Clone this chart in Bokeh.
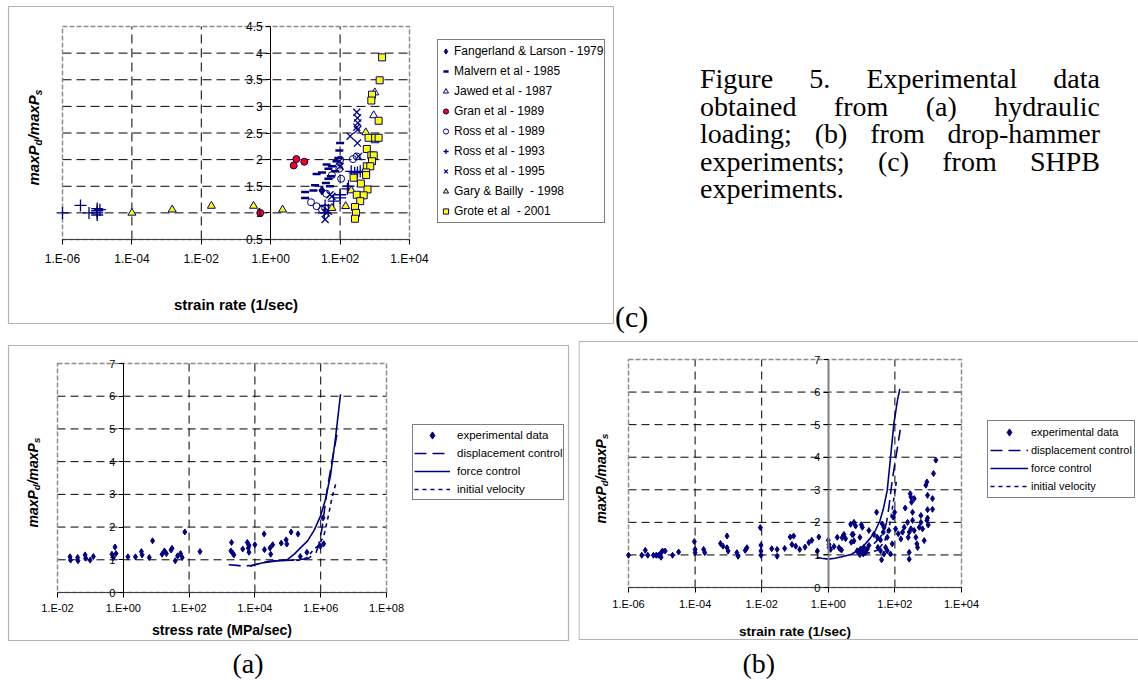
import math
from bokeh.plotting import figure
from bokeh.models import (LinearAxis, LogAxis, FixedTicker, CustomJSTickFormatter, Range1d,
                          Label, BoxAnnotation, Div)
from bokeh.layouts import row, column
from bokeh.embed import file_html
from bokeh.resources import INLINE

# ---------------- panel (c): SHPB experiments ----------------
c_x_ticks = [1e-6, 1e-4, 1e-2, 1e0, 1e2, 1e4]
c_y_ticks = [0.5, 1, 1.5, 2, 2.5, 3, 3.5, 4, 4.5]

fang_rate = [30]
fang_ratio = [1.42]

malvern_rate = [9.8, 9.8, 17, 19, 21, 30, 39, 41, 46, 46, 51, 54, 58, 72, 79, 89, 95, 100]
malvern_ratio = [1.28, 1.39, 1.42, 1.52, 1.73, 1.76, 1.56, 1.91, 1.83, 1.64, 1.5, 1.69, 1.875, 1.78, 1.97, 2.03, 2.17, 2.31]

jawed_rate = [1000, 930, 1020]
jawed_ratio = [3.26, 2.83, 2.36]

gran_rate = [0.5, 4.6, 5.5, 9.3]
gran_ratio = [1.0, 1.89, 2.01, 1.96]

ross89_rate = [14.5, 21, 30, 37, 40, 58, 95, 100, 107, 234, 302]
ross89_ratio = [1.2, 1.125, 1.06, 1.09, 1.36, 1.71, 1.83, 2.0, 1.64, 2.01, 2.06]

ross93_rate = [1e-6, 3.3e-6, 5.8e-6, 1e-5, 1e-5, 1e-5, 1e-5, 1.2e-5, 35, 37, 46, 65, 100, 100, 162, 174, 209, 263, 316, 380]
ross93_ratio = [1.0, 1.14, 1.0, 0.96, 1.0, 1.04, 1.08, 1.06, 1.0, 1.14, 1.06, 1.22, 1.28, 1.34, 1.45, 1.5, 1.78, 1.75, 1.76, 1.78]

ross95_rate = [37, 40, 46, 51, 58, 95, 100, 195, 302, 302, 316, 316, 316, 324, 339]
ross95_ratio = [0.875, 1.0, 1.03, 1.34, 1.31, 1.97, 1.875, 2.44, 2.89, 2.61, 2.78, 2.56, 2.31, 2.69, 2.06]

gary_rate = [1e-4, 1.45e-3, 0.0195, 0.32, 2.2, 58, 145, 209, 550]
gary_ratio = [1.0, 1.06, 1.13, 1.13, 1.06, 1.09, 1.125, 1.42, 2.51]

grote_rate = [1622, 1380, 832, 794, 1288, 661, 1023, 1288, 589, 794, 933, 832, 589, 741, 562, 562,
              245, 398, 617, 302, 479, 380, 269, 288, 269]
grote_ratio = [3.92, 3.49, 3.22, 3.11, 2.73, 2.41, 2.41, 2.41, 2.2, 2.08, 2.08, 1.97, 1.875, 1.875, 1.76, 1.71,
               1.66, 1.55, 1.44, 1.34, 1.33, 1.22, 1.11, 1.0, 0.89]

# ---------------- panel (a): hydraulic loading (stress rate) ----------------
a_x_ticks = [1e-2, 1e0, 1e2, 1e4, 1e6, 1e8]
a_y_ticks = [0, 1, 2, 3, 4, 5, 6, 7]

a_exp_rate = [0.024, 0.025, 0.041, 0.042, 0.069, 0.072, 0.098, 0.123,
              0.45, 0.56, 0.6, 0.5, 1.38, 2.34, 3.55, 3.72, 6.17, 7.76, 15.1, 17.8, 20.4, 28.2, 30.2,
              38, 44.7, 55, 61.7, 74, 214,
              1950, 1862, 2138, 2291, 4266, 5888, 6607, 6310, 6607, 10000, 19055, 19498, 28840, 30200,
              34674, 63096, 89125, 93325, 125893, 204174, 239883, 380189, 977237, 1230269, 1174898]
a_exp_ratio = [1.09, 0.99, 1.07, 0.97, 1.15, 1.05, 0.99, 1.1,
               1.17, 1.39, 1.19, 1.07, 1.09, 1.09, 1.25, 1.15, 1.07, 1.58, 1.17, 1.27, 1.19, 1.3, 1.35,
               0.97, 1.12, 1.19, 1.07, 1.85, 1.25,
               1.53, 1.27, 1.2, 1.15, 1.33, 1.53, 1.44, 1.36, 1.23, 1.46, 1.79, 1.31, 1.36, 1.17,
               1.46, 1.51, 1.61, 1.48, 1.85, 1.79, 1.1, 1.23, 1.41, 1.49, 2.28]

a_disp_rate = [1.6e3, 2.8e3, 4.0e3, 7.1e3, 1.26e4, 2.5e4, 6.3e4, 1.6e5, 4.0e5, 7.1e5, 8.7e5, 1.1e6, 1.55e6, 2.2e6, 3.2e6]
a_disp_ratio = [0.85, 0.83, 0.81, 0.82, 0.88, 0.95, 0.98, 0.99, 1.03, 1.2, 1.45, 1.97, 3.1, 4.0, 4.9]

a_force_rate = [7.1e3, 1.6e4, 4.0e4, 9.3e4, 1.6e5, 2.5e5, 4.0e5, 6.3e5, 1.0e6, 1.4e6, 2.0e6, 2.8e6, 4.0e6]
a_force_ratio = [0.8, 0.9, 0.96, 0.99, 1.18, 1.38, 1.58, 1.9, 2.35, 2.85, 3.6, 4.7, 6.06]

a_vel_rate = [1.8e5, 2.8e5, 4.0e5, 6.0e5, 8.9e5, 1.26e6, 1.74e6, 2.2e6, 2.95e6]
a_vel_ratio = [0.98, 1.0, 1.08, 1.31, 1.45, 1.75, 2.38, 2.9, 3.37]

# ---------------- panel (b): drop-hammer (strain rate) ----------------
b_x_ticks = [1e-6, 1e-4, 1e-2, 1e0, 1e2, 1e4]
b_y_ticks = [0, 1, 2, 3, 4, 5, 6, 7]

b_exp_rate = [1e-6, 2.5e-6, 3.2e-6, 3.8e-6, 5.6e-6, 6.8e-6, 7.9e-6, 9.5e-6, 9.5e-6, 1.05e-5, 1.26e-5, 2.1e-5,
              3.2e-5, 9.5e-5, 1e-4, 1e-4, 1.8e-4, 1.95e-4, 5.8e-4, 6.9e-4, 9.1e-4, 9.1e-4, 9.8e-4, 1.8e-3,
              1.95e-3, 3.2e-3, 3.6e-3, 9.1e-3, 9.5e-3, 9.5e-3, 9.5e-3, 0.02, 0.029, 0.029, 0.049, 0.072,
              0.081, 0.091, 0.105, 0.138, 0.2, 0.26, 0.32, 0.47, 0.52, 1.0, 1.05, 1.17, 2.1, 2.6, 2.95, 3.3,
              2.5, 4.7, 5.6, 5.9, 6.6,
              1.05, 1.48, 1.86, 2.3, 4.9, 5.2, 5.9, 8.9, 9.8, 10.5,
              7.4, 8.3, 9.3, 10.5, 11.7, 13.2, 14.8, 16.6, 8.9, 11.2,
              16.6, 23.4, 28.2, 29.5, 30.9, 37, 41.7, 44.7, 46.8, 52.5, 39.8, 37, 46.8, 58.9, 66, 58.9, 74,
              83, 89, 98, 105, 126, 151, 170, 190, 204, 240, 251, 269, 269, 269, 288, 302, 316, 339, 339,
              302, 380, 380, 427, 457, 479, 603, 603, 676, 759, 851, 912, 955, 955, 955, 1000, 1349, 1349,
              1445, 1698, 912, 537]
b_exp_ratio = [0.99, 0.99, 1.14, 0.99, 0.99, 0.99, 0.99, 1.07, 0.93, 1.12, 1.12, 0.99,
               1.09, 1.41, 1.17, 1.07, 1.17, 1.07, 1.35, 1.27, 1.58, 1.22, 1.12, 1.07,
               0.96, 1.14, 1.22, 1.84, 1.3, 1.12, 0.99, 1.19, 1.17, 0.96, 1.2, 1.55,
               1.32, 1.58, 1.27, 1.17, 1.24, 1.38, 1.45, 1.12, 1.55, 1.45, 1.32, 1.17, 1.22, 1.53, 1.63, 1.5,
               1.15, 1.94, 1.63, 1.43, 1.89,
               1.23, 1.26, 1.54, 1.18, 1.39, 1.63, 2.0, 1.54, 1.93, 1.85,
               1.13, 1.05, 1.18, 1.11, 1.23, 1.08, 1.18, 1.29, 1.01, 1.03,
               1.75, 1.63, 2.31, 1.54, 1.23, 1.46, 1.95, 1.7, 1.85, 1.23, 0.85, 1.13, 1.03, 1.13, 1.75, 1.54, 1.03,
               1.34, 2.16, 2.31, 1.8, 1.65, 1.49, 1.7, 1.85, 2.44, 2.0, 1.54, 1.7, 1.08, 0.87, 2.88, 2.78, 2.62, 2.31, 2.06,
               1.8, 2.73, 1.75, 1.54, 1.34, 1.23, 2.21, 2.0, 1.8, 1.44, 3.14, 3.24, 2.83, 2.39, 2.13, 1.92, 2.73, 2.4,
               3.5, 3.91, 2.06, 1.85]

b_disp_rate = [7.9, 11.7, 17.8, 23.4, 33.1, 46.8, 56.2, 66.1, 83.2, 107, 126, 145]
b_disp_ratio = [1.08, 1.18, 1.27, 1.34, 1.5, 1.7, 2.0, 2.47, 3.29, 4.0, 4.45, 4.84]

b_force_rate = [0.45, 0.63, 1.0, 1.58, 2.8, 5.0, 7.9, 11.7, 17.8, 25.1, 35.5, 44.7, 58.9, 74.1, 93.3, 120, 141]
b_force_ratio = [0.93, 0.9, 0.87, 0.9, 0.95, 1.02, 1.15, 1.29, 1.5, 1.72, 2.05, 2.4, 2.98, 4.0, 5.04, 5.76, 6.1]

b_vel_rate = [7.9, 15.8, 31.6, 50.1, 70.8, 89.1, 112]
b_vel_ratio = [1.02, 1.06, 1.15, 1.45, 1.95, 2.6, 3.3]

caption_lines = ["Figure 5. Experimental data", "obtained from (a) hydraulic",
                 "loading; (b) from drop-hammer", "experiments; (c) from SHPB", "experiments."]

# ---------------- helpers ----------------
NAVY = "#000080"
FONT = "Liberation Sans"
SERIF = "Liberation Serif"
EXP_CODE = """
const e = Math.round(Math.log10(tick));
const a = Math.abs(e);
return "1.E" + (e < 0 ? "-" : "+") + (a < 10 ? "0" : "") + a;
"""
NUM_CODE = "return String(Math.round(tick*10)/10);"
ADV = {"m": 889, "a": 556, "x": 556, "P": 667, "/": 278, "d": 611, "s": 556}


def make_fig(w, h, area, xlim, ylim):
    """Frame covers the whole canvas; the data extent xlim x ylim is mapped onto
    the pixel rectangle area=(left, top, right, bottom) of the canvas."""
    pl, pt, pr, pb = area
    lx0, lx1 = math.log10(xlim[0]), math.log10(xlim[1])
    sx = (pr - pl) / (lx1 - lx0)
    sy = (pb - pt) / (ylim[1] - ylim[0])
    xr = Range1d(10 ** (lx0 - pl / sx), 10 ** (lx1 + (w - pr) / sx))
    yr = Range1d(ylim[0] - (h - pb) / sy, ylim[1] + pt / sy)
    p = figure(width=w, height=h, x_axis_type="log", x_range=xr, y_range=yr,
               x_axis_location=None, y_axis_location=None,
               toolbar_location=None, output_backend="svg", margin=0,
               min_border_left=0, min_border_right=0, min_border_top=0, min_border_bottom=0)
    p.background_fill_color = "white"
    p.border_fill_color = "white"
    p.outline_line_color = None
    p.grid.visible = False
    return p


def add_axes(p, xt, yt, tick_size, xlabel, xlabel_size, label_standoff, title_standoff, dash):
    xlim = (xt[0], xt[-1])
    ylim = (yt[0], yt[-1])
    # grid lines and plot-area border
    gx = [t for t in xt[1:-1] if t != 1]
    p.segment(x0=gx, y0=[ylim[0]] * len(gx), x1=gx, y1=[ylim[1]] * len(gx),
              line_color="black", line_dash=dash, line_width=1)
    gy = yt[1:-1]
    p.segment(x0=[xlim[0]] * len(gy), y0=gy, x1=[xlim[1]] * len(gy), y1=gy,
              line_color="black", line_dash=dash, line_width=1)
    p.quad(left=[xlim[0]], right=[xlim[1]], bottom=[ylim[0]], top=[ylim[1]],
           fill_color=None, line_color="#8c8c8c", line_dash="5 2", line_width=1.5)

    xa = LogAxis(ticker=FixedTicker(ticks=xt), formatter=CustomJSTickFormatter(code=EXP_CODE),
                 fixed_location=ylim[0], bounds=xlim)
    ya = LinearAxis(ticker=FixedTicker(ticks=yt), formatter=CustomJSTickFormatter(code=NUM_CODE),
                    fixed_location=1, bounds=ylim)
    for ax in (xa, ya):
        ax.major_label_text_font = FONT
        ax.major_label_text_font_size = f"{tick_size}px"
        ax.major_label_text_color = "black"
        ax.axis_line_color = "black"
        ax.major_tick_line_color = "black"
        ax.major_tick_out = 5
        ax.major_tick_in = 0
        ax.minor_tick_out = 0
        ax.minor_tick_in = 0
    xa.axis_line_color = "#404040"
    xa.major_label_standoff = label_standoff
    ya.major_label_standoff = 3
    xa.axis_label = xlabel
    xa.axis_label_text_font = FONT
    xa.axis_label_text_font_size = f"{xlabel_size}px"
    xa.axis_label_text_font_style = "bold"
    xa.axis_label_text_color = "black"
    xa.axis_label_standoff = title_standoff
    p.add_layout(xa, "below")
    p.add_layout(ya, "left")
    return ya


def add_ylabel(p, x, y0, size, sub_size, sub_dx):
    parts = [("maxP", False), ("d", True), ("/maxP", False), ("s", True)]
    y = y0
    for text, sub in parts:
        fs = sub_size if sub else size
        p.add_layout(Label(x=x + (sub_dx if sub else 0), y=y, x_units="screen", y_units="screen",
                           text=text, angle=math.pi / 2, text_font=FONT,
                           text_font_size=f"{fs}px", text_font_style="bold italic",
                           text_baseline="middle", text_align="left", text_color="black"))
        y += sum(ADV[c] for c in text) * fs / 1000.0


def add_box(p, left, right, top, bottom):
    p.add_layout(BoxAnnotation(left=left, right=right, top=top, bottom=bottom,
                               left_units="screen", right_units="screen",
                               top_units="screen", bottom_units="screen",
                               fill_color=None, fill_alpha=0, line_color="black", line_width=1.2))


def style_legend(p, loc, pad, lh, gw, gh, standoff, fsize):
    lg = p.legend[0]
    lg.location = loc
    lg.padding = pad
    lg.spacing = 0
    lg.margin = 0
    lg.label_height = lh
    lg.glyph_height = gh
    lg.glyph_width = gw
    lg.label_standoff = standoff
    lg.label_text_font = FONT
    lg.label_text_font_size = fsize
    lg.label_text_color = "black"
    lg.border_line_color = "black"
    lg.border_line_width = 1
    lg.background_fill_color = "white"
    lg.background_fill_alpha = 1


# ---------------- panel (c) : canvas 614 x 338 at page (0, 0) ----------------
pc = make_fig(614, 338, (62, 26, 409, 239), (1e-6, 1e4), (0.5, 4.5))
add_axes(pc, c_x_ticks, c_y_ticks, 12, "strain rate (1/sec)", 15, 7, 27, "9 5")
pc.scatter(fang_rate, fang_ratio, marker="diamond", size=9, fill_color=NAVY, line_color=NAVY,
           legend_label="Fangerland & Larson - 1979")
pc.scatter(malvern_rate, malvern_ratio, marker="dash", size=8, line_color=NAVY, line_width=2.5,
           legend_label="Malvern et al - 1985")
pc.scatter(jawed_rate, jawed_ratio, marker="triangle", size=8, fill_color=None, line_color=NAVY,
           legend_label="Jawed et al - 1987")
pc.scatter(gran_rate, gran_ratio, marker="circle", size=7, fill_color="#ff0000", line_color=NAVY,
           legend_label="Gran et al - 1989")
pc.scatter(ross89_rate, ross89_ratio, marker="circle", size=7, fill_color=None, line_color=NAVY,
           legend_label="Ross et al - 1989")
pc.scatter(ross93_rate, ross93_ratio, marker="cross", size=12, line_color=NAVY, line_width=1.3,
           legend_label="Ross et al - 1993")
pc.scatter(ross95_rate, ross95_ratio, marker="x", size=10, line_color=NAVY, line_width=1.3,
           legend_label="Ross et al - 1995")
pc.scatter(gary_rate, gary_ratio, marker="triangle", size=8, fill_color="#ffff00", line_color=NAVY,
           legend_label="Gary & Bailly  - 1998")
pc.scatter(grote_rate, grote_ratio, marker="square", size=7, fill_color="#ffff00", line_color=NAVY,
           legend_label="Grote et al  - 2001")
style_legend(pc, (437, 115), 1, 20, 13, 20, 2, "12px")
add_ylabel(pc, 33, 153, 15, 10, 4.5)
add_box(pc, 8, 613, 332, 15)

# ---------------- panel (a) : canvas 578 x 342 at page (0, 338) ----------------
pa = make_fig(578, 342, (57, 25, 386, 254), (1e-2, 1e8), (0, 7))
add_axes(pa, a_x_ticks, a_y_ticks, 11, "stress rate (MPa/sec)", 14, 4, 5, "8 5")
pa.scatter(a_exp_rate, a_exp_ratio, marker="diamond", size=6, fill_color=NAVY, line_color=NAVY,
           legend_label="experimental data")
pa.line(a_disp_rate, a_disp_ratio, line_color=NAVY, line_width=1.6, line_dash="12 6",
        legend_label="displacement control")
pa.line(a_force_rate, a_force_ratio, line_color=NAVY, line_width=1.6,
        legend_label="force control")
pa.line(a_vel_rate, a_vel_ratio, line_color=NAVY, line_width=1.6, line_dash="4 4",
        legend_label="initial velocity")
style_legend(pa, (412, 180), 1, 18, 36, 18, 7, "11.5px")
add_ylabel(pa, 32, 153, 14, 9.5, 4)
add_box(pa, 8, 568, 335, 40)
pa.add_layout(Label(x=232, y=17, x_units="screen", y_units="screen", text="(a)",
                    text_font=SERIF, text_font_size="28px", text_color="black",
                    text_baseline="alphabetic", text_align="left"))

# ---------------- panel (b) : canvas 560 x 342 at page (578, 338) ----------------
pb = make_fig(560, 342, (50, 21, 383, 249), (1e-6, 1e4), (0, 7))
ya_b = add_axes(pb, b_x_ticks, b_y_ticks, 11, "strain rate (1/sec)", 13.5, 5, 11, "8 5")
ya_b.axis_line_color = "#808080"
ya_b.axis_line_width = 2
pb.scatter(b_exp_rate, b_exp_ratio, marker="diamond", size=6, fill_color=NAVY, line_color=NAVY,
           legend_label="experimental data")
pb.line(b_disp_rate, b_disp_ratio, line_color=NAVY, line_width=1.6, line_dash="12 6",
        legend_label="displacement control")
pb.line(b_force_rate, b_force_ratio, line_color=NAVY, line_width=1.6,
        legend_label="force control")
pb.line(b_vel_rate, b_vel_ratio, line_color=NAVY, line_width=1.6, line_dash="4 4",
        legend_label="initial velocity")
style_legend(pb, (409, 182), 2, 18, 38, 18, 3, "11px")
add_ylabel(pb, 22, 157, 14, 9.5, 4)
add_box(pb, 0.5, 565, 339, 41)
pb.add_layout(Label(x=164, y=17, x_units="screen", y_units="screen", text="(b)",
                    text_font=SERIF, text_font_size="28px", text_color="black",
                    text_baseline="alphabetic", text_align="left"))

# ---------------- caption (page x 614..1138) ----------------
line_html = []
for i, ln in enumerate(caption_lines):
    last = i == len(caption_lines) - 1
    align = "text-align:left;" if last else "text-align:justify;text-align-last:justify;"
    line_html.append(f'<div style="{align}">{ln}</div>')
cap_html = (
    '<div style="position:relative;width:524px;height:338px;margin:0;padding:0;">'
    f'<div style="position:absolute;left:86px;top:65px;width:400px;font-family:\'{SERIF}\';'
    'font-size:28px;line-height:27.5px;color:#000;">' + "".join(line_html) + '</div>'
    f'<div style="position:absolute;left:1px;top:302px;font-family:\'{SERIF}\';'
    'font-size:30px;line-height:30px;color:#000;">(c)</div>'
    '</div>'
)
caption = Div(text=cap_html, width=524, height=338, margin=0)

layout = column(row(pc, caption), row(pa, pb))
open("out.html", "w").write(file_html(layout, INLINE))
